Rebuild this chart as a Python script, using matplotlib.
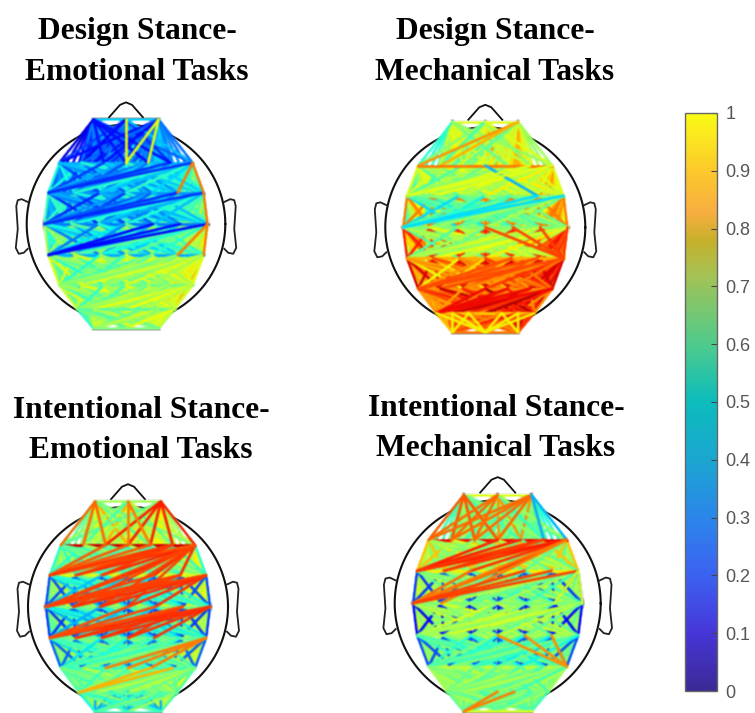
import numpy as np
import matplotlib
matplotlib.use('Agg')
import matplotlib.pyplot as plt
from matplotlib.collections import LineCollection
from matplotlib.colors import LinearSegmentedColormap, Normalize
from matplotlib.cm import ScalarMappable

# Titles
titles = [["Design Stance-", "Emotional Tasks"], ["Design Stance-", "Mechanical Tasks"],
          ["Intentional Stance-", "Emotional Tasks"], ["Intentional Stance-", "Mechanical Tasks"]]

# Colorbar
cbar_ticks = [0, 0.1, 0.2, 0.3, 0.4, 0.5, 0.6, 0.7, 0.8, 0.9, 1]
cbar_labels = ['0', '0.1', '0.2', '0.3', '0.4', '0.5', '0.6', '0.7', '0.8', '0.9', '1']

# Row to row connection values, each row starts at its own diagonal
de_pairs = [[.33, .17, .17, .20, .20, .25, .25, .25],
            [.30, .27, .25, .27, .30, .32, .33],
            [.27, .25, .30, .33, .36, .38],
            [.25, .33, .42, .46, .48],
            [.30, .48, .52, .55],
            [.48, .50, .55],
            [.46, .50],
            [.50]]
dm_pairs = [[.62, .48, .46, .50, .55, .60, .62, .62],
            [.77, .52, .46, .50, .56, .60, .62],
            [.50, .42, .46, .54, .62, .66],
            [.50, .52, .64, .72, .76],
            [.72, .72, .78, .80],
            [.75, .82, .82],
            [.70, .78],
            [.78]]
ie_pairs = [[.55, .50, .55, .58, .60, .60, .60, .60],
            [.93, .48, .52, .55, .58, .58, .58],
            [.62, .40, .50, .55, .58, .58],
            [.50, .38, .46, .52, .55],
            [.48, .44, .55, .60],
            [.42, .50, .56],
            [.46, .46],
            [.42]]
im_pairs = [[.62, .50, .46, .46, .50, .52, .52, .52],
            [.90, .54, .50, .50, .52, .52, .52],
            [.66, .50, .52, .52, .55, .55],
            [.50, .54, .52, .52, .54],
            [.55, .44, .50, .54],
            [.58, .50, .54],
            [.50, .50],
            [.60]]

# Adjacent row values between neighbouring columns
de_near = [.25, .38, .42, .55, .62, .60, .60]
dm_near = [.60, .62, .78, .88, .92, .75, .80]
ie_near = [.72, .40, .20, .18, .22, .45, .30]
im_near = [.75, .70, .18, .13, .20, .55, .45]

# Left to right shift of the values
de_bias = [-.06, -.04, -.02, 0, .05, .10, .18]
dm_bias = [-.06, -.03, 0, .03, .08, .12, .14]
ie_bias = [-.05, -.03, -.02, 0, .02, .03, .05]
im_bias = [.04, .02, .0, -.02, -.04, -.04, 0]

# Shift by how far apart two columns are
col_gap = [.03, 0, -.05, .05, -.03, .06, -.02]

# Single strong fans: row, column, other row, other columns, value
# the short rows (first and last) use columns 2, 3, 4
de_fans = [(2, 0, 1, (5, 6), .17), (3, 0, 2, (5, 6), .17), (4, 0, 3, (4, 5, 6), .13),
           (1, 6, 2, (5, 6), .78), (2, 6, 3, (6,), .78), (3, 6, 4, (5, 6), .78),
           (0, 2, 1, (2, 3, 4, 5), .14), (0, 4, 1, (3, 4), .62), (0, 3, 1, (3,), .64)]
dm_fans = [(0, 4, 1, (0,), .75), (0, 4, 1, (1,), .72), (1, 0, 1, (6,), .78),
           (1, 3, 2, (5,), .30), (3, 0, 2, (5, 6), .34), (2, 0, 1, (5, 6), .62),
           (4, 6, 3, (3, 4, 5, 6), .84), (5, 0, 4, (4, 5, 6), .83), (6, 0, 5, (3, 4, 5, 6), .90),
           (7, 2, 6, (1, 2), .65), (7, 3, 6, (0, 1, 2, 4, 5, 6), .65), (7, 4, 6, (4, 5), .65)]
ie_fans = [(0, 4, 1, (2, 3, 4, 5, 6), .88), (0, 2, 1, (0, 1, 2), .80), (0, 3, 1, (3, 4), .78),
           (1, 6, 2, (0, 1, 2, 3, 4, 5), .87), (1, 6, 3, (0, 1, 2, 3), .84), (2, 0, 1, (2, 3, 4, 5, 6), .82),
           (1, 5, 2, (0, 1, 2), .85), (2, 5, 3, (0, 1, 2), .84), (3, 5, 4, (0, 1, 2, 3), .85),
           (2, 6, 3, (0, 1, 2, 3, 4), .86), (3, 0, 2, (3, 4, 5, 6), .84),
           (3, 6, 4, (0, 1, 2, 3, 4), .86), (4, 0, 3, (3, 4, 5), .83),
           (4, 6, 5, (2, 3, 4), .78), (6, 0, 5, (4, 5), .72)]
im_fans = [(0, 2, 1, (0, 1, 2, 3), .82), (0, 3, 1, (0, 1, 2), .80), (0, 4, 1, (0, 1, 2, 3), .80),
           (0, 4, 1, (5, 6), .30), (1, 6, 2, (0, 1, 2, 3), .86), (2, 0, 1, (3, 4, 5, 6), .88),
           (1, 5, 2, (0, 1), .85), (3, 0, 2, (2, 3), .80),
           (1, 6, 3, (0, 1), .78), (3, 0, 2, (4, 5, 6), .84), (2, 6, 3, (5, 6), .60),
           (5, 6, 4, (3, 4, 5), .76), (7, 2, 6, (3, 4), .78)]

all_pairs = [de_pairs, dm_pairs, ie_pairs, im_pairs]
all_near = [de_near, dm_near, ie_near, im_near]
all_bias = [de_bias, dm_bias, ie_bias, im_bias]
all_fans = [de_fans, dm_fans, ie_fans, im_fans]

# Electrode layout, in head radii
row_y = [1.054, 0.617, 0.315, 0.0, -0.312, -0.614, -0.859, -1.05]
row_half = [.329, .671, .783, .822, .783, .671, .49, .329]
row_cols = [[2, 3, 4], [0, 1, 2, 3, 4, 5, 6], [0, 1, 2, 3, 4, 5, 6], [0, 1, 2, 3, 4, 5, 6],
            [0, 1, 2, 3, 4, 5, 6], [0, 1, 2, 3, 4, 5, 6], [0, 1, 2, 3, 4, 5, 6], [2, 3, 4]]

# Panel centre and head radius in pixels
W, H = 755, 713
centres = [(126, 224, 99.3), (485.3, 227.3, 100), (128, 606.7, 100), (497.7, 603.3, 103)]
title_pos = [(137, 32, 73), (495, 31, 72), (141, 411, 451), (496, 408, 448)]

fig = plt.figure(figsize=(W / 100, H / 100), dpi=100)
fig.patch.set_facecolor('white')


def electrode(r, col):
    xs = np.linspace(-row_half[r], row_half[r], len(row_cols[r]))
    return (xs[row_cols[r].index(col)], row_y[r])


def soften(image, dpi):
    # the reference is a soft screenshot, so blur the network a little
    pad = 3
    img = np.pad(image, ((pad, pad), (pad, pad), (0, 0)))
    for axis in (0, 1):
        img = 0.25 * np.roll(img, 1, axis) + 0.5 * img + 0.25 * np.roll(img, -1, axis)
    return img, -pad, -pad


def draw_head(ax):
    t = np.linspace(0, 2 * np.pi, 300)
    ax.plot(np.cos(t), np.sin(t), color='#111111', lw=1.5, zorder=1)
    ax.plot([-.17, -.06, 0, .06, .17], [1.075, 1.2, 1.225, 1.2, 1.075], color='#111111', lw=1.3, zorder=1)
    for s in [-1, 1]:
        ex = [.985, 1.05, 1.09, 1.105, 1.09, 1.11, 1.08, 1.03, .99]
        ey = [.22, .25, .24, .18, -.05, -.24, -.30, -.29, -.25]
        ax.plot(s * np.array(ex), ey, color='#222222', lw=1.3, zorder=1)


jet = plt.get_cmap('jet')
norm = Normalize(0, 1)

for k in range(4):
    cx, cy, rad = centres[k]
    size = 1.4 * rad
    ax = fig.add_axes([(cx - size) / W, 1 - (cy + size) / H, 2 * size / W, 2 * size / H])
    ax.set_xlim(-1.4, 1.4)
    ax.set_ylim(-1.4, 1.4)
    ax.axis('off')
    draw_head(ax)

    pairs, near, bias, fans = all_pairs[k], all_near[k], all_bias[k], all_fans[k]
    edges = []
    for r1 in range(8):
        for col1 in row_cols[r1]:
            for r2 in range(r1, 8):
                for col2 in row_cols[r2]:
                    if r2 == r1 and col2 <= col1:
                        continue
                    gap = abs(col1 - col2)
                    v = pairs[r1][r2 - r1] + (bias[col1] + bias[col2]) / 2
                    layer = 0
                    if r2 == r1:
                        v = pairs[r1][0]
                        layer = 2
                    elif r2 == r1 + 1 and gap <= 1:
                        v = near[r1]
                        layer = 1
                    elif r2 == r1 + 1 and gap >= 2:
                        v += col_gap[gap]
                        layer = 2
                    else:
                        v += col_gap[gap]
                    edges.append((r1, layer, electrode(r1, col1), electrode(r2, col2), v))
    # later rows on top, shallow lines cover the lower part of the short wedges
    edges.sort(key=lambda e: (e[0], e[1]))
    segs = [[e[2], e[3]] for e in edges]
    vals = [e[4] for e in edges]
    for r1, col1, r2, others, v in fans:
        for col2 in others:
            segs.append([electrode(r1, col1), electrode(r2, col2)])
            vals.append(v)
    lc = LineCollection(segs, array=np.array(vals), cmap=jet, norm=norm, linewidths=1.9, zorder=2, capstyle='round')
    lc.set_agg_filter(soften)
    ax.add_collection(lc)

    tx, y1, y2 = title_pos[k]
    fig.text(tx / W, 1 - y1 / H, titles[k][0], ha='center', va='center', family='Liberation Serif',
             weight='bold', fontsize=22.7, color='black')
    fig.text(tx / W, 1 - y2 / H, titles[k][1], ha='center', va='center', family='Liberation Serif',
             weight='bold', fontsize=22.7, color='black')

# Colorbar with the orange bump near 0.8
bar_cmap = LinearSegmentedColormap.from_list('bar', [
    (0, '#3b2a96'), (.1, '#4636d8'), (.2, '#3c62f2'), (.3, '#2b86ea'), (.4, '#1ba6d0'),
    (.5, '#0bbcbc'), (.6, '#4ecb8c'), (.72, '#a4c254'), (.78, '#c6b02a'), (.83, '#f8ae40'),
    (.9, '#fcc82c'), (1, '#f9fb15')])
cax = fig.add_axes([685 / W, 1 - 691 / H, 32 / W, 578 / H])
cb = fig.colorbar(ScalarMappable(norm=norm, cmap=bar_cmap), cax=cax)
cb.set_ticks(cbar_ticks)
cb.set_ticklabels(cbar_labels)
cb.ax.tick_params(direction='in', length=4, width=0.8, color='#444444', labelcolor='#555555', labelsize=13, pad=6)
for lab in cb.ax.get_yticklabels():
    lab.set_family('Liberation Sans')
cb.outline.set_edgecolor('#666666')
cb.outline.set_linewidth(1)

fig.savefig('out.png', dpi=100)
